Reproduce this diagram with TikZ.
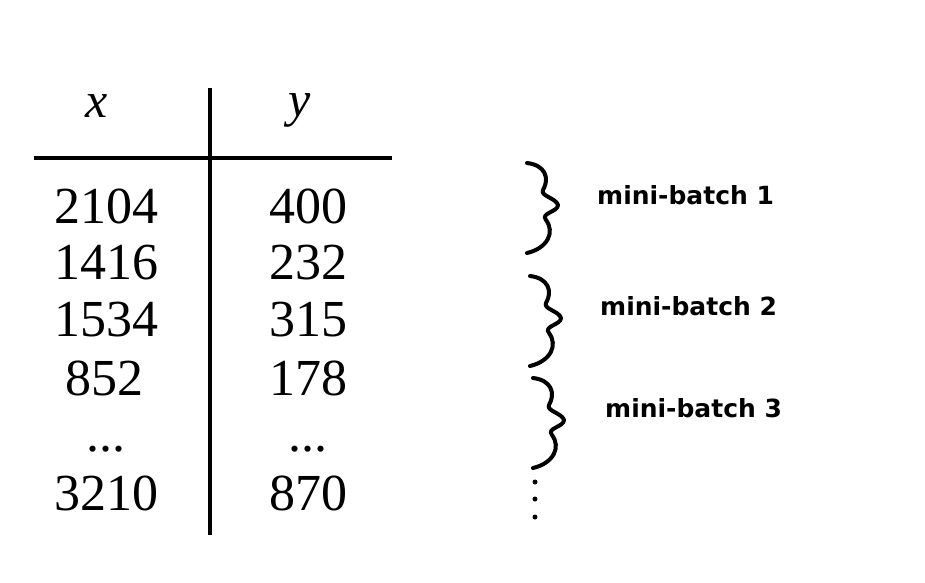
\documentclass[tikz,border=0pt]{standalone}
\usepackage{fontspec}
\setmainfont{Liberation Serif}
\newfontfamily\handfont{DejaVu Sans}
\begin{document}
\begin{tikzpicture}[x=1pt,y=-1pt,
  num/.style={font=\fontsize{52}{52}\selectfont, inner sep=0pt, anchor=center},
  dots/.style={font=\fontsize{52}{52}\selectfont, inner sep=0pt, text height=6pt, text depth=0pt, anchor=south},
  hdr/.style={font=\fontsize{50}{50}\selectfont\itshape, inner sep=0pt, anchor=center},
  lbl/.style={font=\handfont\bfseries\fontsize{25}{25}\selectfont, inner sep=0pt, anchor=west},
  rule/.style={line width=4pt, black},
  brace/.style={line width=4pt, line cap=round, line join=round},
  pics/squig/.style={code={
    \draw[brace] (0,0) .. controls (18,2) and (23,15) .. (16,27)
      .. controls (13,33) and (29,35) .. (31,42)
      .. controls (31,49) and (13,50) .. (19,57)
      .. controls (28,69) and (21,85) .. (0,90);}}]
\useasboundingbox (0,0) rectangle (925,582);
% table
\coordinate (vt) at (210,88);
\coordinate (vb) at (210,535);
\coordinate (hl) at (34,158);
\coordinate (hr) at (392,158);
\draw[rule] (vt) -- (vb);
\draw[rule] (hl) -- (hr);
\node[hdr] (hx) at (97,106) {x};
\node[hdr] (hy) at (300,110) {y};
\node[num] (x1) at (106,206) {2104};
\node[num] (x2) at (106,263) {1416};
\node[num] (x3) at (106,320) {1534};
\node[num] (x4) at (104,378) {852};
\node[dots] (x5) at (106,452) {...};
\node[num] (x6) at (106,493) {3210};
\node[num] (y1) at (308,206) {400};
\node[num] (y2) at (308,263) {232};
\node[num] (y3) at (308,320) {315};
\node[num] (y4) at (308,378) {178};
\node[dots] (y5) at (308,452) {...};
\node[num] (y6) at (308,493) {870};
% braces
\pic at (527,163) {squig};
\pic at (530,276) {squig};
\pic at (533,378) {squig};
\fill (535,482) circle (2.5);
\fill (535,499) circle (2.5);
\fill (535,517) circle (2.5);
\node[lbl] (m1) at (597,195) {mini-batch 1};
\node[lbl] (m2) at (600,306) {mini-batch 2};
\node[lbl] (m3) at (605,408) {mini-batch 3};
\end{tikzpicture}
\end{document}
